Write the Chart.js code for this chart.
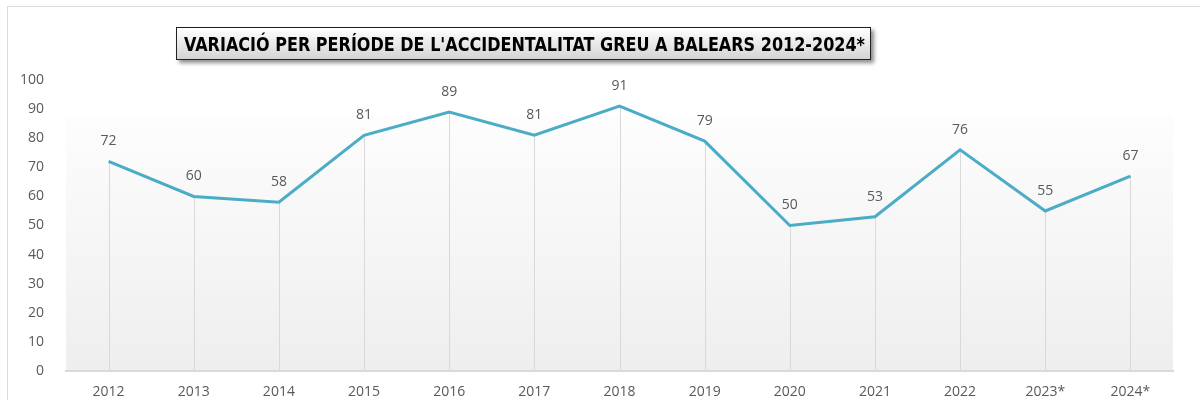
<!DOCTYPE html>
<html>
<head>
<meta charset="utf-8">
<script src="https://cdn.jsdelivr.net/npm/chart.js@4"></script>
<style>
  html, body { margin: 0; padding: 0; background: #fff; }
  #wrap { position: relative; width: 1200px; height: 400px; overflow: hidden; }
  #frame { position: absolute; left: 7px; top: 6px; width: 1300px; height: 500px; border: 1px solid #dcdcdc; box-sizing: border-box; }
  #title {
    position: absolute; left: 176px; top: 27px; width: 695px; height: 33px;
    box-sizing: border-box; border: 1px solid #222;
    background: linear-gradient(#ffffff, #d4d4d4);
    box-shadow: 3px 3px 4px rgba(0,0,0,0.45);
    overflow: hidden; white-space: nowrap;
  }
  #title span {
    position: absolute; left: 0; top: 5px;
    font-family: "DejaVu Sans Condensed", "DejaVu Sans", sans-serif;
    font-weight: bold; font-size: 19px; color: #000;
    transform-origin: 0 0;
  }
</style>
</head>
<body>
<div id="wrap">
  <div id="frame"></div>
  <canvas id="chart" width="1200" height="400"></canvas>
  <div id="title"><span id="titleText">VARIACIÓ PER PERÍODE DE L'ACCIDENTALITAT GREU A BALEARS 2012-2024*</span></div>
</div>
<script>
const years = ['2012', '2013', '2014', '2015', '2016', '2017', '2018', '2019', '2020', '2021', '2022', '2023*', '2024*'];
const accidents = [72, 60, 58, 81, 89, 81, 91, 79, 50, 53, 76, 55, 67];
const yTicks = [0, 10, 20, 30, 40, 50, 60, 70, 80, 90, 100];

// squeeze the title text into the box
const span = document.getElementById('titleText');
const w = span.getBoundingClientRect().width;
const target = 681;
span.style.transform = 'scaleX(' + (target / w) + ')';
span.style.left = '7px';

// gradient behind the plot area
const plotBg = {
    id: 'plotBg',
    beforeDraw(chart) {
        const a = chart.chartArea;
        const c = chart.ctx;
        const g = c.createLinearGradient(0, a.top, 0, a.bottom);
        g.addColorStop(0, '#ffffff');
        g.addColorStop(0.12, '#fdfdfd');
        g.addColorStop(1, '#eeeeee');
        c.save();
        c.fillStyle = g;
        c.fillRect(a.left, a.top + 36, a.right - a.left, a.bottom - a.top - 36);
        c.restore();
    }
};

// vertical drop lines from each point to the axis
const dropLines = {
    id: 'dropLines',
    beforeDatasetsDraw(chart) {
        const c = chart.ctx;
        const bottom = chart.scales.y.getPixelForValue(0);
        c.save();
        c.strokeStyle = '#d9d9d9';
        c.lineWidth = 1;
        chart.getDatasetMeta(0).data.forEach(p => {
            const x = Math.round(p.x) + 0.5;
            c.beginPath();
            c.moveTo(x, p.y);
            c.lineTo(x, bottom);
            c.stroke();
        });
        c.restore();
    }
};

// value labels above points
const valueLabels = {
    id: 'valueLabels',
    afterDatasetsDraw(chart) {
        const c = chart.ctx;
        c.save();
        c.font = '14px "Open Sans", sans-serif';
        c.fillStyle = '#595959';
        c.textAlign = 'center';
        c.textBaseline = 'middle';
        chart.getDatasetMeta(0).data.forEach((p, i) => {
            c.fillText(accidents[i], p.x, p.y - 20);
        });
        c.restore();
    }
};

const ctx = document.getElementById('chart').getContext('2d');
new Chart(ctx, {
    type: 'line',
    data: {
        labels: years,
        datasets: [{
            data: accidents,
            borderColor: '#4bacc6',
            borderWidth: 3,
            pointRadius: 0,
            tension: 0,
            fill: false
        }]
    },
    options: {
        responsive: false,
        animation: false,
        layout: { padding: { top: 80, right: 27, left: 0, bottom: 0 } },
        plugins: {
            legend: { display: false },
            tooltip: { enabled: false }
        },
        scales: {
            x: {
                offset: true,
                grid: { display: false },
                border: { display: true, color: '#d9d9d9', width: 2 },
                ticks: {
                    color: '#595959',
                    font: { family: 'Open Sans', size: 14 },
                    padding: 5,
                    maxRotation: 0
                },
                afterFit(scale) { scale.height = 29; }
            },
            y: {
                min: 0,
                max: 100,
                afterBuildTicks(scale) { scale.ticks = yTicks.map(v => ({ value: v })); },
                grid: { display: false },
                border: { display: false },
                ticks: {
                    color: '#595959',
                    font: { family: 'Open Sans', size: 14 },
                    padding: 14
                },
                afterFit(scale) { scale.width = 66; }
            }
        }
    },
    plugins: [plotBg, dropLines, valueLabels]
});
</script>
</body>
</html>
